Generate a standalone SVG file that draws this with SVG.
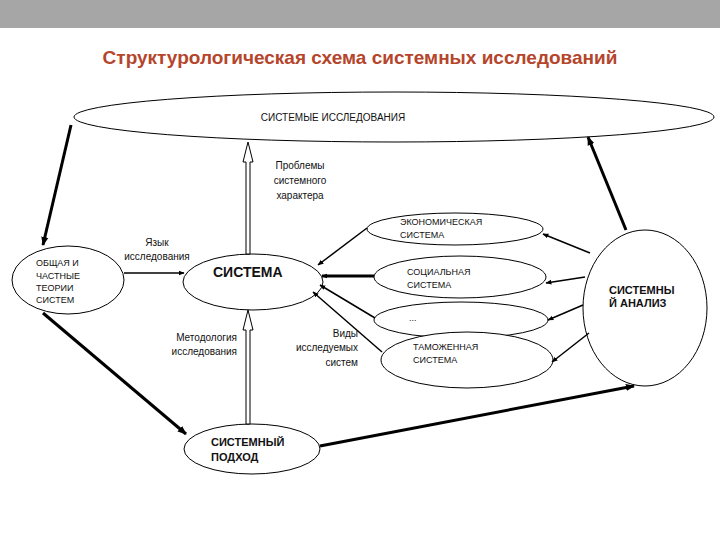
<svg xmlns="http://www.w3.org/2000/svg" width="720" height="540" viewBox="0 0 720 540">
<style>
.n{fill:#fff;stroke:#000;stroke-width:1}
.t{font-family:"Liberation Sans",Arial,sans-serif;fill:#111}
.s{font-size:9px}.m{font-size:10px}.b{font-weight:bold;font-size:11px}
.thin{stroke:#000;stroke-width:1.5;fill:none}
.thick{stroke:#000;stroke-width:3;fill:none}
</style>
<defs>
<marker id="a" viewBox="0 0 10 10" refX="9" refY="5" markerWidth="6" markerHeight="6" orient="auto" markerUnits="userSpaceOnUse"><path d="M0,1L10,5L0,9z" fill="#000"/></marker>
<marker id="ab" viewBox="0 0 10 10" refX="9" refY="5" markerWidth="9" markerHeight="9" orient="auto" markerUnits="userSpaceOnUse"><path d="M0,1L10,5L0,9z" fill="#000"/></marker>
</defs>
<rect width="720" height="540" fill="#fff"/>
<rect width="720" height="28" fill="#a6a6a6"/>
<text x="360" y="64" text-anchor="middle" class="t" style="font-size:19px;font-weight:bold;fill:#B5452B">Структурологическая схема системных исследований</text>
<g class="t m">
<text x="300" y="169" text-anchor="middle">Проблемы</text>
<text x="300" y="184" text-anchor="middle">системного</text>
<text x="300" y="199" text-anchor="middle">характера</text>
<text x="157" y="246" text-anchor="middle">Язык</text>
<text x="157" y="260" text-anchor="middle">исследования</text>
<text x="237" y="341" text-anchor="end">Методология</text>
<text x="237" y="355" text-anchor="end">исследования</text>
<text x="358" y="337" text-anchor="end">Виды</text>
<text x="358" y="351" text-anchor="end">исследуемых</text>
<text x="358" y="366" text-anchor="end">систем</text>
</g>
<g id="top"><ellipse cx="394" cy="117" rx="320" ry="25" class="n"/><text x="333" y="121" text-anchor="middle" class="t" style="font-size:10px">СИСТЕМЫЕ ИССЛЕДОВАНИЯ</text></g>
<g id="general"><ellipse cx="68" cy="280" rx="56" ry="34" class="n"/><text class="t s"><tspan x="36" y="266">ОБЩАЯ И</tspan><tspan x="36" y="279">ЧАСТНЫЕ</tspan><tspan x="36" y="291">ТЕОРИИ</tspan><tspan x="36" y="303">СИСТЕМ</tspan></text></g>
<g id="system"><ellipse cx="253" cy="282" rx="70" ry="28" class="n"/><text x="213" y="277" class="t" style="font-size:14px;font-weight:bold">СИСТЕМА</text></g>
<g id="econ"><ellipse cx="455" cy="229" rx="88" ry="16" class="n"/><text class="t s"><tspan x="400" y="225">ЭКОНОМИЧЕСКАЯ</tspan><tspan x="400" y="238">СИСТЕМА</tspan></text></g>
<g id="social"><ellipse cx="460" cy="277" rx="86" ry="21" class="n"/><text class="t s"><tspan x="407" y="275">СОЦИАЛЬНАЯ</tspan><tspan x="407" y="288">СИСТЕМА</tspan></text></g>
<g id="dots"><ellipse cx="461" cy="320" rx="87" ry="18" class="n"/><text x="409" y="321" class="t s">...</text></g>
<g id="customs"><ellipse cx="467" cy="360" rx="86" ry="28" class="n"/><text class="t s"><tspan x="413" y="350">ТАМОЖЕННАЯ</tspan><tspan x="413" y="363">СИСТЕМА</tspan></text></g>
<g id="analysis"><ellipse cx="645" cy="308" rx="62" ry="78" class="n"/><text class="t b"><tspan x="609" y="294">СИСТЕМНЫ</tspan><tspan x="609" y="307">Й АНАЛИЗ</tspan></text></g>
<g id="approach"><ellipse cx="252" cy="449" rx="68" ry="25" class="n"/><text class="t b"><tspan x="211" y="446">СИСТЕМНЫЙ</tspan><tspan x="211" y="461">ПОДХОД</tspan></text></g>
<g id="connectors">
<line x1="71" y1="125" x2="43" y2="245" class="thick" marker-end="url(#ab)"/>
<line x1="43" y1="313" x2="186" y2="434" class="thick" marker-end="url(#ab)"/>
<line x1="320" y1="446" x2="634" y2="386" class="thick" marker-end="url(#ab)"/>
<line x1="626" y1="230" x2="588" y2="137" class="thick" marker-end="url(#ab)"/>
<line x1="124" y1="273" x2="184" y2="273" class="thin" marker-end="url(#a)"/>
<g fill="#fff" stroke="#000" stroke-width="1">
<path d="M246,254V162H243L248,142L253,162H250V254Z"/>
<path d="M246,424V330H243L248,310L253,330H250V424Z"/>
</g>
<line x1="367" y1="228" x2="318" y2="265" class="thin" marker-end="url(#a)"/>
<line x1="374" y1="276" x2="322" y2="276" class="thick" marker-end="url(#a)"/>
<line x1="375" y1="318" x2="320" y2="285" class="thin" marker-end="url(#a)"/>
<line x1="382" y1="352" x2="313" y2="292" class="thin" marker-end="url(#a)"/>
<line x1="590" y1="253" x2="543" y2="234" class="thin" marker-end="url(#a)"/>
<line x1="585" y1="277" x2="546" y2="283" class="thin" marker-end="url(#a)"/>
<line x1="583" y1="305" x2="548" y2="320" class="thin" marker-end="url(#a)"/>
<line x1="589" y1="333" x2="552" y2="362" class="thin" marker-end="url(#a)"/>
</g>
</svg>
